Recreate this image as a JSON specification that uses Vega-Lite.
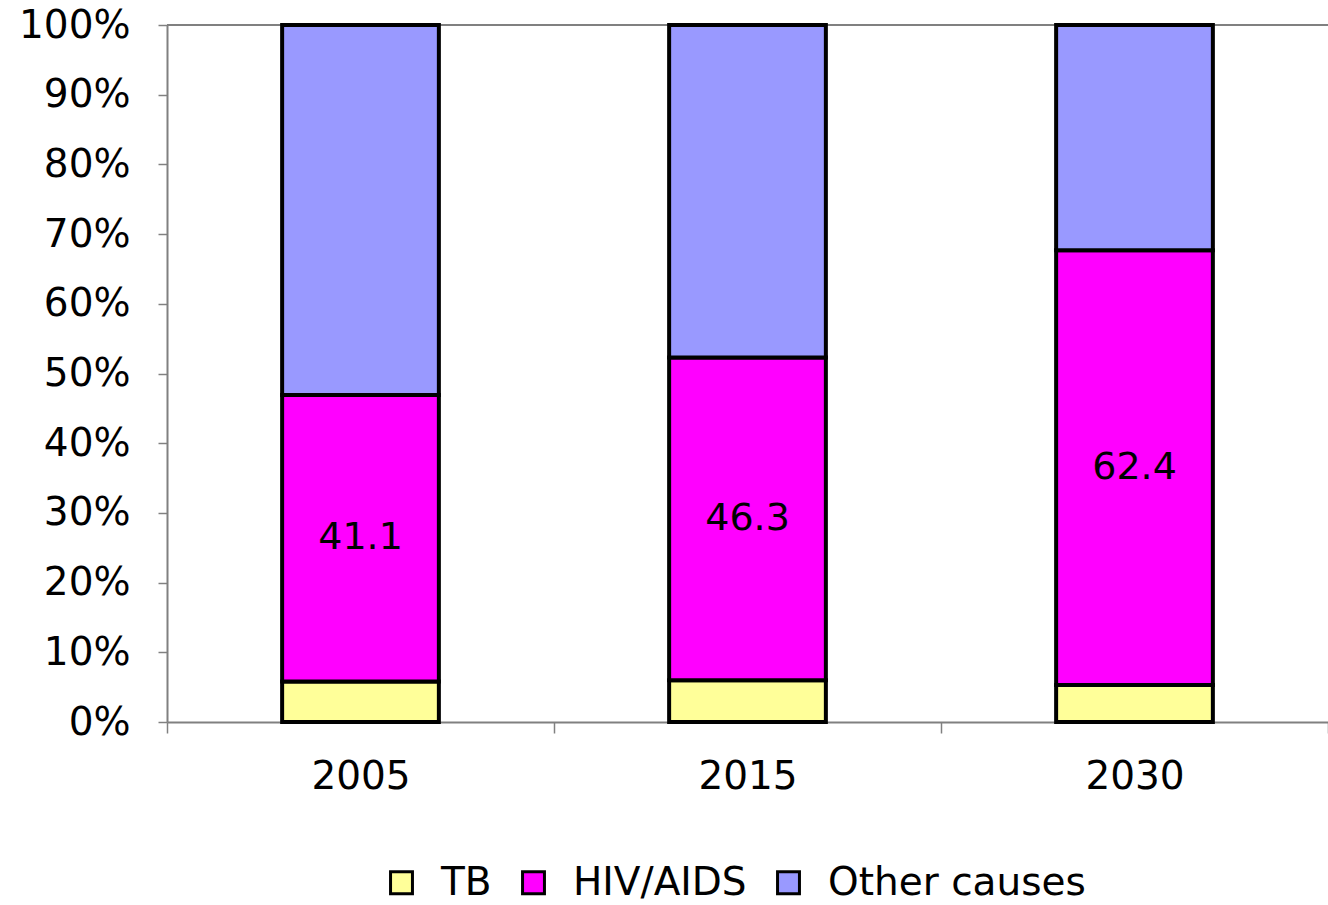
{
  "$schema": "https://vega.github.io/schema/vega-lite/v6.json",
  "width": 1161,
  "height": 697,
  "autosize": {"type": "none"},
  "padding": {"left": 167, "top": 25, "right": 0, "bottom": 183},
  "background": "white",
  "config": {
    "view": {"stroke": null},
    "font": "DejaVu Sans",
    "axis": {"domainColor": "#808080", "tickColor": "#808080", "domainWidth": 2, "tickWidth": 1.5, "labelColor": "black", "labelFont": "DejaVu Sans", "labelFontSize": 39, "grid": false, "labelOverlap": false}
  },
  "data": {
    "values": [
      {"year": "2005", "cause": "TB", "order": 1, "value": 5.8},
      {"year": "2005", "cause": "HIV/AIDS", "order": 2, "value": 41.1},
      {"year": "2005", "cause": "Other causes", "order": 3, "value": 53.1},
      {"year": "2015", "cause": "TB", "order": 1, "value": 6.0},
      {"year": "2015", "cause": "HIV/AIDS", "order": 2, "value": 46.3},
      {"year": "2015", "cause": "Other causes", "order": 3, "value": 47.7},
      {"year": "2030", "cause": "TB", "order": 1, "value": 5.3},
      {"year": "2030", "cause": "HIV/AIDS", "order": 2, "value": 62.4},
      {"year": "2030", "cause": "Other causes", "order": 3, "value": 32.3}
    ]
  },
  "transform": [
    {"stack": "value", "groupby": ["year"], "sort": [{"field": "order"}], "offset": "normalize", "as": ["y0", "y1"]},
    {"calculate": "(datum.y0 + datum.y1) / 2", "as": "ymid"}
  ],
  "layer": [
    {
      "mark": {"type": "rule", "color": "#808080", "strokeWidth": 2},
      "encoding": {"y": {"datum": 1, "type": "quantitative", "scale": {"domain": [0, 1]}}}
    },
    {
      "mark": {"type": "bar", "stroke": "black", "strokeWidth": 4, "width": {"band": 0.405}},
      "encoding": {
        "x": {
          "field": "year", "type": "nominal", "title": null,
          "scale": {"paddingInner": 0, "paddingOuter": 0},
          "axis": {"labelAngle": 0, "tickBand": "extent", "tickSize": 11, "labelPadding": 24, "domainColor": "#808080"}
        },
        "y": {
          "field": "y0", "type": "quantitative", "title": null,
          "scale": {"domain": [0, 1]},
          "axis": {"format": ".0%", "values": [0, 0.1, 0.2, 0.3, 0.4, 0.5, 0.6, 0.7, 0.8, 0.9, 1], "tickSize": 9, "labelPadding": 28}
        },
        "y2": {"field": "y1"},
        "color": {
          "field": "cause", "type": "nominal",
          "scale": {"domain": ["TB", "HIV/AIDS", "Other causes"], "range": ["#FFFF99", "#FF00FF", "#9999FF"]},
          "legend": {
            "title": null, "orient": "none", "direction": "horizontal",
            "legendX": 215, "legendY": 838,
            "symbolType": "square", "symbolSize": 480, "symbolStrokeColor": "black", "symbolStrokeWidth": 3,
            "labelFontSize": 39, "labelFont": "DejaVu Sans", "labelColor": "black", "labelLimit": 500,
            "columnPadding": 22, "labelOffset": 20, "symbolOpacity": 1
          }
        }
      }
    },
    {
      "transform": [{"filter": "datum.cause === 'HIV/AIDS'"}],
      "mark": {"type": "text", "fontSize": 38, "font": "DejaVu Sans", "color": "black", "baseline": "middle"},
      "encoding": {
        "x": {"field": "year", "type": "nominal"},
        "y": {"field": "ymid", "type": "quantitative"},
        "text": {"field": "value", "type": "quantitative", "format": ".1f"}
      }
    }
  ]
}
